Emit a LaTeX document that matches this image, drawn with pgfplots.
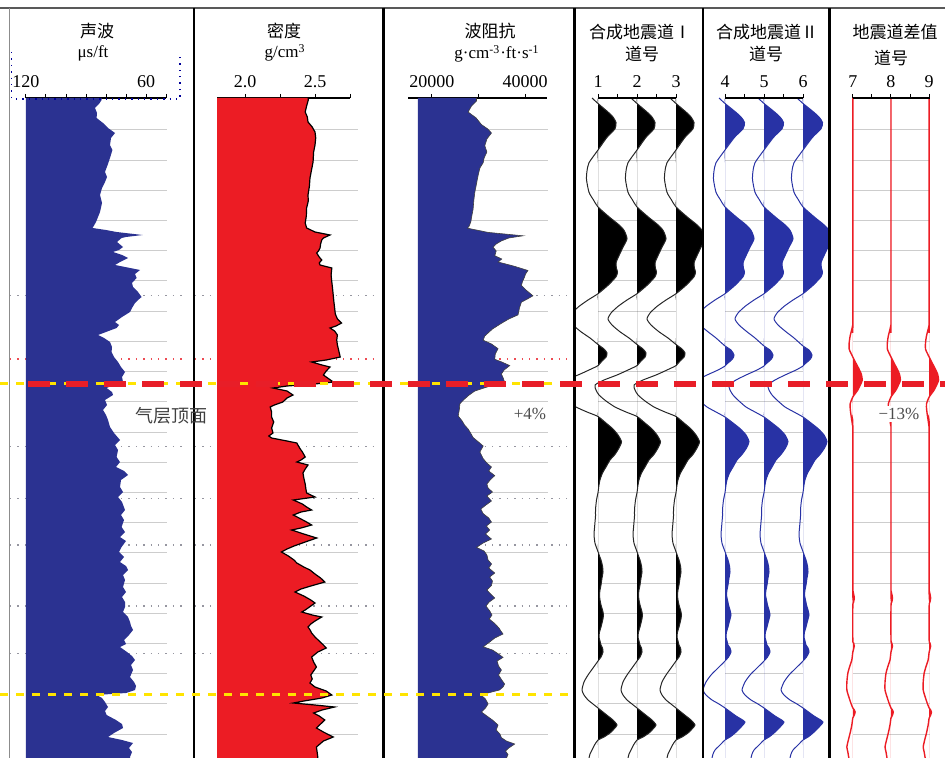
\documentclass[border=0pt]{standalone}
\usepackage{pgfplots}
\pgfplotsset{compat=1.18}
\usepackage{pgfplotstable}
\usepackage{fontspec}
\setmainfont{Liberation Serif}
\newfontfamily\cjk{Noto Sans CJK SC}
\definecolor{logblue}{RGB}{43,50,145}
\definecolor{logred}{RGB}{236,28,36}
\definecolor{sblue}{RGB}{40,50,165}
\definecolor{gridgray}{RGB}{205,205,205}
\definecolor{dotgray}{RGB}{150,150,160}
\definecolor{dashyellow}{RGB}{255,228,0}
\definecolor{dashred}{RGB}{232,30,40}

% sonic (us/ft) vs depth (px-like sample)
\pgfplotstableread{
y dt
98 82.2
100 82.2
104 83.5
108 85.5
113 84.5
118 84.7
123 81.5
128 79.0
133 75.5
138 77.5
145 78.0
150 76.8
158 78.0
165 79.2
172 80.5
177 79.5
182 80.5
188 82.0
195 83.0
203 82.0
212 83.0
217 84.0
222 85.0
228 86.7
230 80.0
232 74.7
235 61.7
237 70.0
238 72.2
242 74.5
247 71.5
250 73.5
252 76.5
255 72.0
258 69.0
262 73.0
265 75.5
268 68.0
270 63.0
274 65.5
278 64.7
283 67.0
287 66.5
292 64.0
297 62.2
300 64.0
303 65.5
308 67.0
312 68.0
317 72.0
322 75.5
325 73.5
328 74.7
332 80.0
335 84.0
338 81.0
342 78.0
347 77.0
352 77.2
357 76.0
362 74.0
367 72.5
372 70.5
377 72.0
382 71.5
385 76.0
388 79.7
392 77.0
395 76.5
400 80.5
405 79.5
410 81.5
415 80.0
420 79.0
427 78.0
433 76.0
440 73.0
445 75.5
450 74.0
457 74.7
462 73.0
467 75.0
471 71.0
475 69.0
480 72.5
487 73.0
492 71.5
497 74.0
502 72.0
510 70.5
515 72.5
520 71.0
527 72.2
532 70.5
537 73.0
541 70.0
547 72.2
552 73.5
557 71.0
562 73.0
566 70.0
570 69.0
575 71.5
580 70.5
587 71.5
592 70.0
597 72.0
602 70.5
607 70.5
612 71.5
617 69.0
622 68.0
626 67.5
630 66.5
635 68.5
640 71.0
644 70.0
647 73.0
652 69.5
656 67.0
660 65.5
665 67.5
670 66.5
677 68.0
682 66.0
686 65.0
690 65.5
693 70.0
695 84.7
698 82.0
702 80.5
707 79.0
711 80.5
715 79.7
720 75.0
724 72.0
728 71.5
733 76.0
737 79.0
740 72.0
743 66.5
748 68.5
752 67.0
757 68.0
758 68.0
}\sonic

\pgfplotstableread{
y rho
98 2.452
100 2.452
106 2.44
112 2.43
117 2.445
122 2.45
127 2.48
132 2.5
138 2.505
145 2.5
152 2.49
162 2.486
170 2.475
178 2.464
186 2.46
195 2.45
201 2.452
208 2.44
216 2.438
223 2.43
228 2.44
232 2.5
235 2.607
238 2.56
240 2.548
244 2.54
248 2.536
251 2.525
253 2.512
257 2.53
260 2.548
263 2.53
265 2.536
268 2.62
275 2.615
282 2.62
288 2.625
295 2.63
302 2.635
308 2.64
314 2.645
319 2.66
323 2.69
326 2.65
328 2.607
331 2.64
335 2.66
340 2.655
345 2.66
351 2.67
357 2.68
360 2.58
362 2.476
365 2.55
367 2.607
371 2.58
375 2.56
379 2.6
382 2.63
384 2.5
386 2.3
388 2.2
391 2.3
395 2.343
398 2.3
402 2.27
405 2.21
407 2.18
412 2.19
417 2.19
422 2.205
428 2.19
433 2.2
436 2.17
438 2.19
441 2.3
443 2.37
448 2.39
452 2.41
457 2.43
460 2.4
462 2.37
465 2.45
469 2.43
473 2.414
478 2.42
484 2.43
489 2.435
493 2.44
497 2.5
500 2.345
504 2.41
507 2.44
510 2.476
512 2.4
515 2.345
519 2.4
522 2.44
525 2.476
528 2.4
530 2.333
534 2.42
538 2.512
542 2.43
546 2.35
549 2.3
552 2.26
556 2.31
560 2.35
563 2.37
567 2.42
570 2.464
574 2.5
578 2.54
582 2.57
586 2.47
589 2.4
592 2.357
596 2.42
600 2.47
603 2.5
607 2.46
610 2.43
612 2.405
615 2.48
617 2.548
621 2.5
624 2.47
627 2.45
630 2.465
633 2.476
637 2.5
641 2.53
645 2.56
648 2.58
652 2.52
657 2.476
662 2.49
667 2.51
671 2.49
675 2.47
679 2.48
683 2.464
687 2.5
691 2.58
695 2.62
698 2.55
701 2.42
703 2.345
705 2.5
707 2.64
710 2.55
713 2.49
716 2.53
720 2.57
724 2.54
728 2.51
732 2.56
737 2.63
741 2.56
747 2.51
752 2.515
757 2.52
758 2.52
}\dens

\pgfplotstableread{
y z
98 29570
101 29570
106 28500
112 27770
118 29500
124.6 30640
129 32000
133 32780
139 31800
145.7 31350
152 31800
158 31200
162.7 31000
168 30300
175.3 29920
183 29600
192.3 29210
200 29000
209.2 28840
215 28600
221.8 28350
226 28000
228.2 27640
232.4 32060
235.8 39550
238 36500
240.9 34920
244 33800
247.2 33130
251 33800
255.7 33490
259 35000
262 34200
266 37500
270.5 40620
274 40100
276.8 39910
281 39500
285.3 39200
290 40200
295.8 41690
299 40500
302.2 39200
308 38800
314.9 38480
319 36500
323.3 34920
329 33000
336 31350
340.2 31000
344 32800
348.7 34200
354 33600
359.3 33490
362 35000
365.6 36700
370 35500
374 34920
378 35300
382.5 35630
386 32500
391 29210
395 28000
399 27000
403.7 26000
409 25900
416 25640
421 26500
425 27000
429 27770
433 28300
437.5 28840
442 30000
446 31000
452 30300
458.6 31000
463 31800
467 32780
471 32200
475.6 33490
480 32500
484 31800
488 32060
492 33000
496 31800
501 32780
505 31600
509 30500
513.6 31000
518 32200
522 32780
526 31700
530 32400
534 31500
539 32780
543 31000
547.4 29570
551 31200
555 31800
560 32060
564 32800
568 32200
573 33490
577 32400
581 33000
585.5 32780
590 31800
594 32600
598 33490
602 32300
606 31600
611 32420
615 32900
619 32300
623.5 33490
628 34400
631 34800
634 35270
638 33500
642 32400
646.8 31000
650 33000
654 34300
657.4 35270
661 34000
666 34300
670 34920
675 34300
680 35000
684 35600
687 35270
690 34500
693 32000
695.4 30640
699 31500
704 32060
708 31500
712 30640
716 31800
720 33000
725 34200
730 33800
734 34600
737.7 34920
741 36000
744 37770
748 36500
751 35800
754.6 36340
758 36000
}\imped

% synthetic trace I (amplitude in px of trace width)
\pgfplotstableread{
y a
98 -6
103.5 0
112 10
117 15
122.5 18
128.8 17
137.3 9
150 0
162.7 -9
171 -11
179.6 -11.5
192.3 -9
200 -4.5
207 0
217.6 12
224 20
230.3 26
238.8 29
247.2 25
257.8 20
263 18
268.4 18.5
272 19.5
276.8 18
285.3 10
293.7 0
300 -10
306.4 -19
313 -26
319 -29
325 -25
331.8 -17
338 -8
344.5 0
349 6
353 9
357.2 8
361 4
365.6 0
370 -9
375 -20
380 -33
385 -42
390 -41
395 -38
401 -31
407 -22
412 -11
416.5 0
423 8
429 15
435 20
441.7 23.5
448 21
454.4 17
460 12
467 8
473 4.5
479.8 2
485 1
492.5 0
500 -1.5
509.4 -2.5
516 -2.5
522 -3
528 -3.5
534.7 -4
543.2 -3
551.7 0
556 1.5
560 3
566 4.5
572 5
578 4
585 3
590 2
595 1.5
600 2
605 3
610 4.5
615 5.5
621 4.5
627 3
632 1.5
637 1
641 2
645 3
648 4.5
652 5
657 3
661 0
668 -5
675 -10
682 -14
690 -16
695 -14
700 -10
704 -5
708 0
712 5
716 10
720 15
725 19
729 16
733 12
737 6
740 0
745 -3.5
750 -6
754 -8
758 -9
}\synI

\pgfplotstableread{
y a
98 -6
103.5 0
112 10.5
117 16
122.5 19.5
128.8 18
137.3 9.5
150 0
162.7 -9
171 -11
179.6 -11.5
192.3 -9
200 -4.5
207 0
217.6 12
224 20
230.3 26
238.8 29
247.2 25
257.8 20
263 18
268.4 18.5
272 19.5
276.8 18
285.3 10
293.7 0
300 -10
306.4 -19
313 -26
319 -29
325 -25
331.8 -17
338 -9
346 0
350 6
355 9
359 7.5
363 3
366 0
370 -7
375 -18
380 -28
385 -35
390 -34
395 -31
401 -25
407 -18
412 -9
417 0
423 8
429 15.5
435 21
441.7 24
448 21.5
454.4 17
460 12
467 8
473 4.5
479.8 2
485 1
492.5 0
500 -1.5
509.4 -2.5
516 -2.5
522 -3
528 -3.5
534.7 -4
543.2 -3
551.7 0
556 1.5
560 3
566 4.5
572 5
578 4
585 3
590 2
595 1.5
600 2.5
605 3.5
610 5
615 6
621 4.5
627 3
632 1.5
637 1
641 2
645 3
648 5
652 6
657 3.5
661 0
668 -7
675 -14
682 -19
690 -22
695 -19
700 -13
704 -6
708 0
712 5.5
716 11
719 16
722 20
726 17
733 10
737 5
740 0
745 -5
750 -10
754 -12
758 -13
}\synII

\pgfplotstableread{
y d
98 0
320 0
327 -0.5
336 -2.7
343 -3.7
349 -3.7
353 -2
357 0
362 2.5
368 5.7
374 8.5
380 9.5
384 8
390 5
397 0
404 -2.7
410 -2.5
416 -1.7
422 -0.8
429 0
590 0
594 0.8
598 1.5
602 0.8
606 0
640 0
643 0.8
646 1.5
649 0.8
652 0
660 -1
666 -3
673 -5
682 -6
690 -6
697 -4
703 -2
708 0
710 1.5
712 2.3
715 1.5
718 0
725 -1
733 -2.7
740 -4.5
747 -6
752 -5
758 -4
}\diff

\pgfplotsset{
  track/.style={scale only axis, height=330pt, anchor=north west,
    ymin=-758, ymax=-98, axis x line*=top, axis y line=none,
    tick align=outside, major tick length=2pt,
    every tick/.style={black, line width=0.5pt},
    x axis line style={black, line width=0.6pt},
    xticklabel style={font=\fontsize{9}{10}\selectfont, inner sep=1pt, yshift=2pt},
    scaled x ticks=false, clip mode=individual},
  trackless/.style={x axis line style={draw=none}},
}

\begin{document}
\begin{tikzpicture}
\useasboundingbox (0,0) rectangle (472.5pt,-379pt);
% ---------- background decorations ----------
\begin{scope}[x=0.5pt,y=-0.5pt]
  \foreach \k in {0,...,20} {
    \pgfmathsetmacro\g{130+30.2*\k}
    \draw[gridgray, line width=0.5pt] (26,\g) -- (167,\g) (217,\g) -- (358,\g) (418,\g) -- (548,\g)
      (598,\g) -- (676,\g) (725,\g) -- (803,\g) (853,\g) -- (930,\g);
  }
  \foreach \d in {295.7,446.7,498.3,545,606,653.3} {
    \draw[dotgray, line width=0.7pt, dash pattern=on 0.7pt off 3pt] (10,\d) -- (183,\d) (195,\d) -- (375,\d) (418,\d) -- (568,\d);
  }
  \draw[dashred!80, line width=0.7pt, dash pattern=on 0.7pt off 3pt] (10,359) -- (183,359) (195,359) -- (375,359) (418,359) -- (570,359);
\end{scope}

% ---------- track 1: sonic ----------
\begin{axis}[track, at={(13pt,-49pt)}, width=70pt, x dir=reverse, xmin=50, xmax=120,
  xtick={50,60,...,120}, xticklabels={,60,,,,,,120}]
  \addplot[fill=logblue, draw=none] table[x=dt, y expr=-\thisrow{y}] {\sonic} -- (120,-758) -- (120,-98) -- cycle;
\end{axis}

% ---------- track 2: density ----------
\begin{axis}[track, at={(108.5pt,-49pt)}, width=66.5pt, xmin=1.8, xmax=2.75,
  xtick={2,2.25,2.5,2.75}, xticklabels={2.0,,2.5,}]
  \addplot[fill=logred, draw=none] table[x=rho, y expr=-\thisrow{y}] {\dens} -- (1.8,-758) -- (1.8,-98) -- cycle;
  \addplot[black, line width=0.6pt] table[x=rho, y expr=-\thisrow{y}] {\dens};
\end{axis}

% ---------- track 3: impedance ----------
\begin{axis}[track, at={(204pt,-49pt)}, width=69.5pt, xmin=14860, xmax=44710,
  xtick={20000,30000,40000}, xticklabels={20000,,40000}]
  \addplot[fill=logblue, draw=none] table[x=z, y expr=-\thisrow{y}] {\imped} -- (17000,-758) -- (17000,-98) -- cycle;
  \addplot[black!75, line width=0.3pt] table[x=z, y expr=-\thisrow{y}] {\imped};
\end{axis}

% ---------- track 4: synthetic I ----------
\begin{axis}[track, trackless, at={(288pt,-49pt)}, width=63pt, xmin=0.4359, xmax=3.6667,
  xtick={1,1.5,2,2.5,3}, xticklabels={1,,2,,3}]
  \pgfplotsinvokeforeach{1,2,3}{
    \addplot[fill=black, draw=none, smooth, tension=0.4] table[x expr={#1+max(\thisrow{a},0)/39}, y expr=-\thisrow{y}] {\synI};
    \addplot[black!85, line width=0.5pt, smooth, tension=0.4] table[x expr={#1+\thisrow{a}/39}, y expr=-\thisrow{y}] {\synI};
  }
\end{axis}

% ---------- track 5: synthetic II ----------
\begin{axis}[track, trackless, at={(352pt,-49pt)}, width=62pt, xmin=3.4615, xmax=6.641,
  xtick={4,4.5,5,5.5,6}, xticklabels={4,,5,,6}]
  \pgfplotsinvokeforeach{4,5,6}{
    \addplot[fill=sblue, draw=none, smooth, tension=0.4] table[x expr={#1+max(\thisrow{a},0)/39}, y expr=-\thisrow{y}] {\synII};
    \addplot[sblue, line width=0.5pt, smooth, tension=0.4] table[x expr={#1+\thisrow{a}/39}, y expr=-\thisrow{y}] {\synII};
  }
\end{axis}

% ---------- track 6: difference ----------
\begin{axis}[track, trackless, at={(415.5pt,-49pt)}, width=57pt, xmin=6.4286, xmax=9.4156,
  xtick={7,7.5,8,8.5,9}, xticklabels={7,,8,,9}]
  \pgfplotsinvokeforeach{7,8,9}{
    \addplot[fill=logred, draw=none, smooth, tension=0.4] table[x expr={#1+max(\thisrow{d},0)/38.5}, y expr=-\thisrow{y}] {\diff};
    \addplot[logred, line width=0.7pt, smooth, tension=0.4] table[x expr={#1+\thisrow{d}/38.5}, y expr=-\thisrow{y}] {\diff};
  }
\end{axis}

% ---------- foreground ----------
\begin{scope}[x=0.5pt,y=-0.5pt]
  \draw[black!65, line width=1pt] (0,8) -- (945,8);
  \draw[black!45, line width=0.5pt] (9.5,8) -- (9.5,758);
  \foreach \s in {194,383.5,574.5,703,829.5} \draw[black, line width=1.3pt] (\s,8) -- (\s,758);
  \draw[black, line width=0.6pt] (598,98) -- (676,98) (725,98) -- (803,98) (853,98) -- (930,98);
  \draw[blue!60!black, line width=0.6pt, dash pattern=on 0.7pt off 2.5pt] (11.7,52) -- (11.7,99) -- (180,99) -- (180,52);
  \draw[dashyellow, line width=1.2pt, dash pattern=on 4pt off 4pt] (0,383.5) -- (575,383.5);
  \draw[dashyellow, line width=1.2pt, dash pattern=on 4pt off 4pt] (0,694.5) -- (575,694.5);
  \draw[dashred, line width=2.6pt, dash pattern=on 11pt off 8pt] (28,384) -- (945,384);
  % titles
  \begin{scope}[every node/.style={inner sep=0pt}]
  \node[font=\cjk\fontsize{8.5}{10}\selectfont] at (97,31) {声波};
  \node[font=\fontsize{8.5}{10}\selectfont] at (93,53) {μs/ft};
  \node[font=\cjk\fontsize{8.5}{10}\selectfont] at (284,31) {密度};
  \node[font=\fontsize{8.5}{10}\selectfont] at (285,53) {g/cm\textsuperscript{3}};
  \node[font=\cjk\fontsize{8.5}{10}\selectfont] at (490,31) {波阻抗};
  \node[font=\fontsize{8.5}{10}\selectfont] at (497,54) {g·cm\textsuperscript{-3}·ft·s\textsuperscript{-1}};
  \node[font=\cjk\fontsize{8.5}{10}\selectfont] at (640,32) {合成地震道Ⅰ};
  \node[font=\cjk\fontsize{8.5}{10}\selectfont] at (642,54) {道号};
  \node[font=\cjk\fontsize{8.5}{10}\selectfont] at (767,32) {合成地震道Ⅱ};
  \node[font=\cjk\fontsize{8.5}{10}\selectfont] at (766,54) {道号};
  \node[font=\cjk\fontsize{8.5}{10}\selectfont] at (895,32) {地震道差值};
  \node[font=\cjk\fontsize{8.5}{10}\selectfont] at (891,58) {道号};
  \node[font=\cjk\fontsize{9}{10}\selectfont, text=black!75] at (171,416) {气层顶面};
  \node[font=\fontsize{8.5}{10}\selectfont, text=black!70] at (530,414) {+4\%};
  \node[font=\fontsize{8.5}{10}\selectfont, text=black!70, fill=white, inner xsep=0.5pt, inner ysep=1pt] at (899,414) {−13\%};
  \end{scope}
\end{scope}
\end{tikzpicture}
\end{document}
